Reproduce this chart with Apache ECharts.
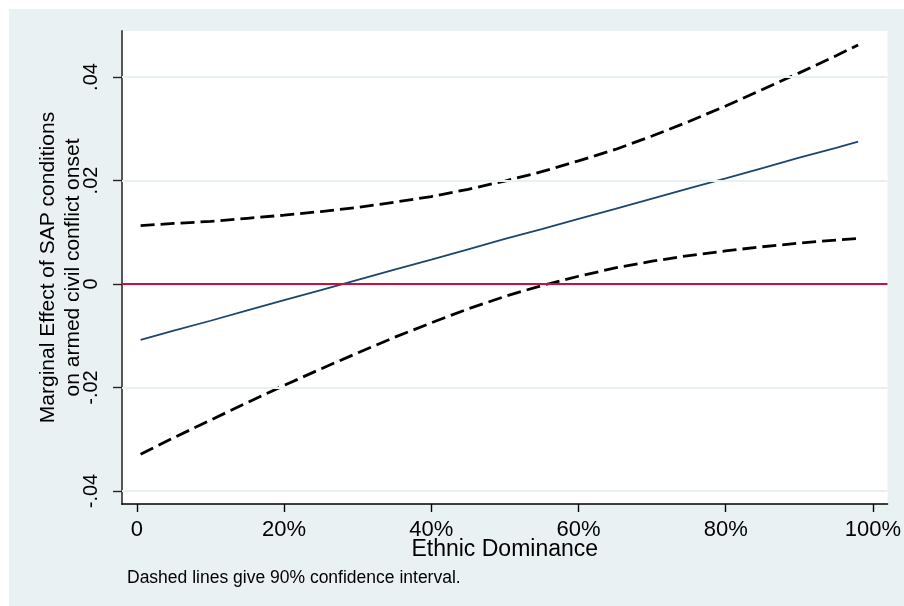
<!DOCTYPE html>
<html>
<head>
<meta charset="utf-8">
<script src="https://cdn.jsdelivr.net/npm/echarts@6/dist/echarts.min.js"></script>
<style>
  html, body { margin: 0; padding: 0; background: #ffffff; }
  #wrap { position: relative; width: 904px; height: 606px; }
  #panel { position: absolute; left: 9px; top: 9px; right: 0; bottom: 0; background: #eaf1f3; }
  #chart { position: absolute; left: 0; top: 0; width: 904px; height: 606px; }
</style>
</head>
<body>
<div id="wrap">
  <div id="panel"></div>
  <div id="chart"></div>
</div>
<script>
// Ethnic dominance (%) at which the marginal effect is evaluated
const dominance = [0.5, 5, 10, 15, 20, 25, 30, 35, 40, 45, 50, 55, 60, 65, 70, 75, 80, 85, 90, 95, 98];
// Marginal effect of SAP conditions on armed civil conflict onset
const effect = [-0.0108, -0.0090, -0.0071, -0.0051, -0.0031, -0.0012, 0.0008, 0.0028, 0.0047, 0.0067, 0.0087,
                0.0106, 0.0126, 0.0145, 0.0165, 0.0185, 0.0204, 0.0224, 0.0244, 0.0263, 0.0275];
// 90% confidence bounds
const upperCI = [0.0113, 0.0117, 0.0121, 0.0127, 0.0133, 0.0140, 0.0148, 0.0158, 0.0169, 0.0183, 0.0199,
                 0.0217, 0.0238, 0.0260, 0.0286, 0.0314, 0.0344, 0.0376, 0.0408, 0.0441, 0.0462];
const lowerCI = [-0.0329, -0.0297, -0.0263, -0.0229, -0.0196, -0.0164, -0.0133, -0.0103, -0.0075, -0.0048, -0.0024,
                 -0.0003, 0.0015, 0.0031, 0.0044, 0.0055, 0.0064, 0.0072, 0.0079, 0.0085, 0.0088];

const yTicks = [-0.04, -0.02, 0, 0.02, 0.04];
const yTickLabels = ['-.04', '-.02', '0', '.02', '.04'];
const xTicks = [0, 20, 40, 60, 80, 100];
const xTickLabels = ['0', '20%', '40%', '60%', '80%', '100%'];
const referenceLine = 0;

const FONT = '"Liberation Sans", Arial, Helvetica, sans-serif';

const pairs = (ys) => dominance.map((x, i) => [x, ys[i]]);

const chart = echarts.init(document.getElementById('chart'), null, { renderer: 'canvas' });

chart.setOption({
  backgroundColor: 'transparent',
  animation: false,
  title: {
    text: 'Dashed lines give 90% confidence interval.',
    left: 127,
    top: 569,
    padding: 0,
    textStyle: { fontFamily: FONT, fontSize: 17.5, fontWeight: 'normal', color: '#000' }
  },
  grid: {
    left: 122, top: 31, right: 13, bottom: 102,
    show: true, backgroundColor: '#ffffff', borderWidth: 0
  },
  xAxis: {
    type: 'value',
    min: -2.03, max: 101.99,
    name: 'Ethnic Dominance',
    nameLocation: 'middle',
    nameGap: 34,
    nameMoveOverlap: false,
    nameTextStyle: { fontFamily: FONT, fontSize: 23, color: '#000' },
    axisLine: { show: true, onZero: false, lineStyle: { color: '#000', width: 1.6 } },
    axisTick: { show: true, length: 8, customValues: xTicks, lineStyle: { color: '#000', width: 1.4 } },
    axisLabel: {
      customValues: xTicks,
      margin: 15,
      fontFamily: FONT, fontSize: 22, color: '#000',
      formatter: (v) => xTickLabels[xTicks.indexOf(v)]
    },
    splitLine: { show: false }
  },
  yAxis: {
    type: 'value',
    min: -0.04251, max: 0.04889,
    name: 'Marginal Effect of SAP conditions\non armed civil conflict onset',
    nameLocation: 'middle',
    nameRotate: 90,
    nameGap: 36,
    nameMoveOverlap: false,
    nameTextStyle: { fontFamily: FONT, fontSize: 21, lineHeight: 25, color: '#000', align: 'center' },
    axisLine: { show: true, onZero: false, lineStyle: { color: '#555', width: 2 } },
    axisTick: { show: true, length: 9, customValues: yTicks, lineStyle: { color: '#222', width: 1.4 } },
    axisLabel: {
      customValues: yTicks,
      rotate: 90,
      margin: 21,
      fontFamily: FONT, fontSize: 20, color: '#000',
      formatter: (v) => yTickLabels[yTicks.indexOf(v)]
    },
    splitLine: { show: false }
  },
  series: [
    {
      // horizontal grid lines at each labelled y value
      type: 'line', data: [], silent: true,
      markLine: {
        silent: true, symbol: 'none', label: { show: false },
        lineStyle: { color: '#e9f0f2', width: 2, type: 'solid' },
        data: yTicks.map((v) => ({ yAxis: v }))
      }
    },
    {
      // zero reference line
      type: 'line', data: [], silent: true,
      markLine: {
        silent: true, symbol: 'none', label: { show: false },
        lineStyle: { color: '#c8103e', width: 2, type: 'solid' },
        data: [{ yAxis: referenceLine }]
      }
    },
    {
      name: 'Upper bound', type: 'line', data: pairs(upperCI),
      showSymbol: false, smooth: false,
      lineStyle: { color: '#000', width: 2.8, type: [14, 6] }
    },
    {
      name: 'Lower bound', type: 'line', data: pairs(lowerCI),
      showSymbol: false, smooth: false,
      lineStyle: { color: '#000', width: 2.8, type: [14, 6] }
    },
    {
      name: 'Marginal effect', type: 'line', data: pairs(effect),
      showSymbol: false, smooth: false,
      lineStyle: { color: '#1a476f', width: 1.8 }
    }
  ]
});
</script>
</body>
</html>
